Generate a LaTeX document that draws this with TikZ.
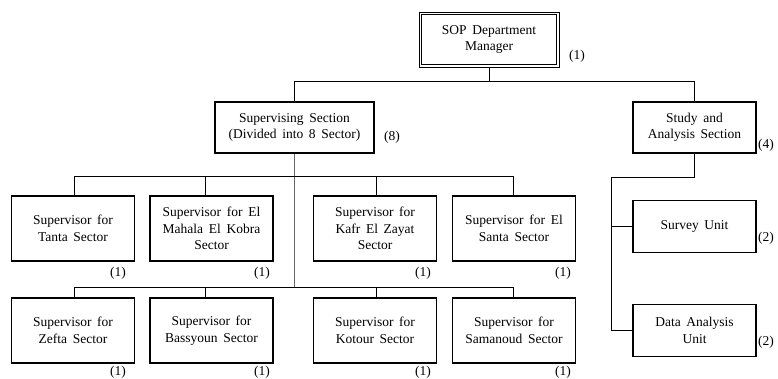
\documentclass[tikz,border=0pt]{standalone}
\usepackage{fontspec}
\setmainfont{Liberation Serif}
\newcommand{\orgfont}{\fontsize{13.5}{16.5}\selectfont\spaceskip=0.42em plus 0.1em minus 0.05em}
\begin{document}
\begin{tikzpicture}[x=1pt,y=-1pt,
  box/.style={draw, line width=1.1pt, align=center, inner sep=0pt, font=\orgfont},
  sector/.style={box, minimum width=123pt, minimum height=65pt},
  unitbox/.style={box, minimum width=123pt, minimum height=52pt},
  topbox/.style={draw, line width=0.9pt, align=center, inner sep=0pt,
                 font=\orgfont, minimum width=140pt, minimum height=55pt},
  count/.style={font=\orgfont, inner sep=0pt},
  link/.style={line width=0.8pt},
  spine/.style={line width=1pt, draw=black!60}]
\useasboundingbox (0,0) rectangle (778,378);

% managers and sections
\node[topbox] (top) at (489,39.5) {SOP Department\\Manager};
\draw[line width=0.9pt] ([shift={(2.6,2.6)}]top.north west) rectangle ([shift={(-2.6,-2.6)}]top.south east);
\node[box, minimum width=159pt, minimum height=51pt] (sup) at (294.5,127.5) {Supervising Section\\(Divided into 8 Sector)};
\node[box, minimum width=123pt, minimum height=51pt] (study) at (694.5,127.5) {Study and\\Analysis Section};

% study units
\node[unitbox] (survey) at (694.5,226.5) {Survey Unit};
\node[unitbox] (data) at (694.5,330.5) {Data Analysis\\Unit};

% sector supervisors, first row
\node[sector] (s1) at (73,228.5) {Supervisor for\\Tanta Sector};
\node[sector] (s2) at (211.5,228.5) {Supervisor for El\\Mahala El Kobra\\Sector};
\node[sector] (s3) at (375,228.5) {Supervisor for\\Kafr El Zayat\\Sector};
\node[sector] (s4) at (514,228.5) {Supervisor for El\\Santa Sector};

% sector supervisors, second row
\node[sector] (s5) at (73,330.5) {Supervisor for\\Zefta Sector};
\node[sector] (s6) at (211.5,330.5) {Supervisor for\\Bassyoun Sector};
\node[sector] (s7) at (375,330.5) {Supervisor for\\Kotour Sector};
\node[sector] (s8) at (514,330.5) {Supervisor for\\Samanoud Sector};

% staff counts
\node[count] (c0) at (577,56) {(1)};
\node[count] (c8) at (392,137) {(8)};
\node[count] (c4) at (766,145) {(4)};
\node[count] (cs) at (766,238) {(2)};
\node[count] (cd) at (766,342) {(2)};
\node[count] (c1) at (118,273) {(1)};
\node[count] (c2) at (262,273) {(1)};
\node[count] (c3) at (423,273) {(1)};
\node[count] (c5) at (563,273) {(1)};
\node[count] (c6) at (118,372) {(1)};
\node[count] (c7) at (262,372) {(1)};
\node[count] (c9) at (423,372) {(1)};
\node[count] (c10) at (563,372) {(1)};

% bus junctions
\coordinate (busL) at (294.5,81);
\coordinate (busR) at (694.5,81);
\coordinate (r1L) at (74,176);
\coordinate (r1b) at (205,176);
\coordinate (r1c) at (376,176);
\coordinate (r1R) at (513,176);
\coordinate (r2L) at (74,287);
\coordinate (r2b) at (205,287);
\coordinate (r2c) at (376,287);
\coordinate (r2R) at (513,287);
\coordinate (j1) at (694.5,177);
\coordinate (j2) at (611,177);

% top level
\draw[link] (busL) -- (busR);
\draw[link] (top.south) -- (top.south |- busL);
\draw[link] (busL) -- (sup.north);
\draw[link] (busR) -- (study.north);

% supervising section spine and buses
\draw[spine] (sup.south) -- (sup.south |- r2L);
\draw[link] (r1L) -- (r1R);
\draw[link] (r2L) -- (r2R);
\draw[link] (r1L) -- (r1L |- s1.north);
\draw[link] (r1b) -- (r1b |- s2.north);
\draw[link] (r1c) -- (r1c |- s3.north);
\draw[link] (r1R) -- (r1R |- s4.north);
\draw[link] (r2L) -- (r2L |- s5.north);
\draw[link] (r2b) -- (r2b |- s6.north);
\draw[link] (r2c) -- (r2c |- s7.north);
\draw[link] (r2R) -- (r2R |- s8.north);

% study section branches
\draw[link] (study.south) -- (j1) -- (j2) -- (j2 |- data.west) -- (data.west);
\draw[link] (j2 |- survey.west) -- (survey.west);
\end{tikzpicture}
\end{document}
